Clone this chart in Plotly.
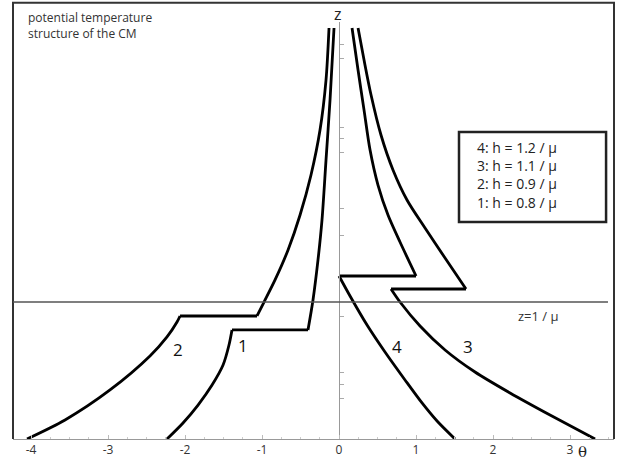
import plotly.graph_objects as go

# ---- data (theta, z in units of 1/mu) ----
c1_lower_theta = [-2.234, -2.026, -1.831, -1.649, -1.506, -1.429, -1.390]
c1_lower_z     = [0.0, 0.117, 0.248, 0.394, 0.540, 0.686, 0.796]
c1_upper_theta = [-0.403, -0.338, -0.273, -0.221, -0.169, -0.117, -0.065]
c1_upper_z     = [0.796, 1.015, 1.307, 1.599, 2.036, 2.474, 3.0]

c2_lower_theta = [-4.052, -3.558, -2.974, -2.455, -2.234, -2.104, -2.065]
c2_lower_z     = [0.0, 0.139, 0.358, 0.606, 0.745, 0.854, 0.898]
c2_upper_theta = [-1.065, -0.974, -0.831, -0.662, -0.506, -0.364, -0.247, -0.169, -0.130]
c2_upper_z     = [0.898, 1.0, 1.161, 1.380, 1.635, 1.927, 2.255, 2.620, 3.0]

c3_lower_theta = [3.325, 2.740, 2.221, 1.766, 1.377, 1.052, 0.792, 0.675]
c3_lower_z     = [0.0, 0.175, 0.336, 0.489, 0.650, 0.825, 1.0, 1.095]
c3_upper_theta = [1.649, 1.377, 1.117, 0.883, 0.701, 0.545, 0.416, 0.325, 0.247]
c3_upper_z     = [1.095, 1.321, 1.540, 1.745, 1.964, 2.219, 2.511, 2.766, 3.0]

c4_lower_theta = [1.506, 1.273, 1.078, 0.857, 0.597, 0.364, 0.143, 0.0]
c4_lower_z     = [0.0, 0.131, 0.263, 0.431, 0.635, 0.832, 1.044, 1.190]
c4_upper_theta = [1.0, 0.792, 0.636, 0.506, 0.403, 0.325, 0.247, 0.169]
c4_upper_z     = [1.190, 1.438, 1.635, 1.854, 2.109, 2.401, 2.693, 3.0]

curve_names = ["1", "2", "3", "4"]
curve_label_theta = [-1.247, -2.091, 1.675, 0.753]
curve_label_z = [0.686, 0.650, 0.672, 0.672]

legend_lines = ["4: h = 1.2 / μ", "3: h = 1.1 / μ", "2: h = 0.9 / μ", "1: h = 0.8 / μ"]
title_lines = ["potential temperature", "structure of the CM"]

x_tickvals = [-4, -3, -2, -1, 0, 1, 2, 3]
x_ticktext = ["-4", "-3", "-2", "-1", "0", "1", "2", "3"]
z_tickvals = [0.299, 0.401, 0.489, 0.891, 1.489, 1.686, 2.088, 2.190, 2.277, 2.781, 2.883]

Z_MU = 1.0  # z = 1/mu
X_RANGE = [-4.234, 3.571]
Z_RANGE = [0, 3.044]

FONT = "Open Sans"
LW = 2.8

fig = go.Figure()

curves = [
    (c1_lower_theta, c1_lower_z, c1_upper_theta, c1_upper_z),
    (c2_lower_theta, c2_lower_z, c2_upper_theta, c2_upper_z),
    (c3_lower_theta, c3_lower_z, c3_upper_theta, c3_upper_z),
    (c4_lower_theta, c4_lower_z, c4_upper_theta, c4_upper_z),
]
for lt, lz, ut, uz in curves:
    fig.add_trace(go.Scatter(x=lt, y=lz, mode="lines",
                             line=dict(color="black", width=LW, shape="spline", smoothing=0.8),
                             hoverinfo="skip", showlegend=False))
    fig.add_trace(go.Scatter(x=[lt[-1], ut[0]], y=[lz[-1], uz[0]], mode="lines",
                             line=dict(color="black", width=LW),
                             hoverinfo="skip", showlegend=False))
    fig.add_trace(go.Scatter(x=ut, y=uz, mode="lines",
                             line=dict(color="black", width=LW, shape="spline", smoothing=0.8),
                             hoverinfo="skip", showlegend=False))

annotations = []
for name, tx, tz in zip(curve_names, curve_label_theta, curve_label_z):
    annotations.append(dict(x=tx, y=tz, text=name, showarrow=False,
                            xanchor="center", yanchor="middle",
                            font=dict(family=FONT, size=17, color="#111")))

annotations += [
    # legend box text
    dict(x=1.766, y=1.927, text="<br>".join(legend_lines), showarrow=False,
         xanchor="left", yanchor="middle", align="left",
         font=dict(family=FONT, size=14, color="#222")),
    dict(xref="paper", yref="paper", x=0.0216, y=0.9916, xanchor="left", yanchor="middle",
         text="<br>".join(title_lines), showarrow=False, align="left",
         font=dict(family=FONT, size=12, color="#333")),
    dict(xref="paper", yref="paper", x=0.5408, y=1.019, text="z", showarrow=False,
         xanchor="center", yanchor="middle",
         font=dict(family=FONT, size=16, color="#222")),
    dict(xref="paper", yref="paper", x=0.948, y=-0.031, text="θ", showarrow=False,
         xanchor="center", yanchor="middle",
         font=dict(family="DejaVu Serif", size=15, color="#222")),
    dict(x=2.584, y=0.898, text="z=1 / μ", showarrow=False,
         xanchor="center", yanchor="middle",
         font=dict(family=FONT, size=13, color="#333")),
]

shapes = [
    # frame (left, top, right)
    dict(type="path", xref="paper", yref="paper", path="M 0,0 L 0,1.046 L 1,1.046 L 1,0",
         line=dict(color="#333", width=2)),
    # z = 1/mu line
    dict(type="line", xref="paper", yref="y", x0=0, x1=0.99, y0=Z_MU, y1=Z_MU,
         line=dict(color="#555", width=1.5)),
    # legend box
    dict(type="rect", xref="x", yref="y", x0=1.558, x1=3.468, y0=1.584, y1=2.241,
         line=dict(color="#222", width=2.5), fillcolor="white", layer="below"),
]

fig.update_layout(
    width=619, height=463,
    margin=dict(l=13, r=5, t=22, b=24),
    paper_bgcolor="white", plot_bgcolor="white",
    showlegend=False,
    annotations=annotations,
    shapes=shapes,
    xaxis=dict(range=X_RANGE, showgrid=False, zeroline=False, showline=True,
               linecolor="#999", linewidth=1, ticks="inside", ticklen=4, tickcolor="#bbb",
               tickvals=x_tickvals, ticktext=x_ticktext,
               tickfont=dict(family=FONT, size=12, color="#333"),
               minor=dict(ticks="inside", ticklen=2, dtick=0.25, tickcolor="#ccc")),
    yaxis=dict(range=Z_RANGE, showgrid=False, zeroline=False, showline=True,
               linecolor="#999", linewidth=1, anchor="free", position=0.5424,
               ticks="inside", ticklen=4, tickcolor="#aaa", tickvals=z_tickvals,
               showticklabels=False),
)

fig.write_html("out.html")
